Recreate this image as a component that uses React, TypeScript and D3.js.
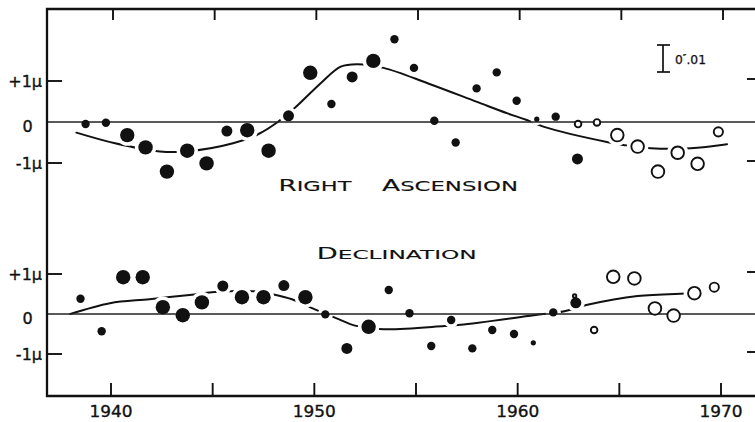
import React from "react";
import * as d3 from "d3";

// ---------- data ----------
const raYears = [1938.75, 1939.75, 1940.8, 1941.7, 1942.75, 1943.75, 1944.7, 1945.7, 1946.7, 1947.75, 1948.73, 1949.8, 1950.84, 1951.86, 1952.9, 1953.94, 1954.9, 1955.9, 1956.95, 1957.98, 1958.97, 1959.95, 1960.94, 1961.87, 1962.94, 1962.97, 1963.9, 1964.9, 1965.9, 1966.9, 1967.87, 1968.85, 1969.87];
const raValues = [-0.05, -0.02, -0.32, -0.62, -1.21, -0.7, -1.01, -0.22, -0.2, -0.7, 0.15, 1.2, 0.44, 1.1, 1.49, 2.02, 1.32, 0.03, -0.5, 0.82, 1.21, 0.52, 0.07, 0.13, -0.9, -0.05, -0.01, -0.32, -0.6, -1.21, -0.75, -1.02, -0.24];
const raWeights = [2, 2, 4, 4, 4, 4, 4, 3, 4, 4, 3, 4, 2, 3, 4, 2, 2, 2, 2, 2, 2, 2, 1, 2, 3, 2, 2, 4, 4, 4, 4, 4, 3];
const raOpen = [0, 0, 0, 0, 0, 0, 0, 0, 0, 0, 0, 0, 0, 0, 0, 0, 0, 0, 0, 0, 0, 0, 0, 0, 0, 1, 1, 1, 1, 1, 1, 1, 1];

const decYears = [1938.5, 1939.54, 1940.6, 1941.56, 1942.55, 1943.53, 1944.47, 1945.5, 1946.44, 1947.5, 1948.5, 1949.56, 1950.54, 1951.6, 1952.67, 1953.66, 1954.68, 1955.75, 1956.73, 1957.77, 1958.75, 1959.82, 1960.77, 1961.75, 1962.86, 1962.8, 1963.76, 1964.7, 1965.74, 1966.75, 1967.67, 1968.69, 1969.67];
const decValues = [0.38, -0.43, 0.92, 0.92, 0.17, -0.03, 0.29, 0.7, 0.42, 0.42, 0.71, 0.42, -0.01, -0.86, -0.32, 0.6, 0.02, -0.8, -0.15, -0.86, -0.4, -0.5, -0.72, 0.04, 0.28, 0.45, -0.4, 0.93, 0.89, 0.14, -0.04, 0.52, 0.67];
const decWeights = [2, 2, 4, 4, 4, 4, 4, 3, 4, 4, 3, 4, 2, 3, 4, 2, 2, 2, 2, 2, 2, 2, 1, 2, 3, 1, 2, 4, 4, 4, 4, 4, 3];
const decOpen = [0, 0, 0, 0, 0, 0, 0, 0, 0, 0, 0, 0, 0, 0, 0, 0, 0, 0, 0, 0, 0, 0, 0, 0, 0, 1, 1, 1, 1, 1, 1, 1, 1];

const raCurveYears = [1938.3, 1940.2, 1942.4, 1943.7, 1946.0, 1947.3, 1948.2, 1949.1, 1950.3, 1951.3, 1952.1, 1953.4, 1955.6, 1958.0, 1959.5, 1960.45, 1961.3, 1964.5, 1965.2, 1966.55, 1968.5, 1970.3];
const raCurveValues = [-0.26, -0.52, -0.72, -0.72, -0.52, -0.28, 0.0, 0.37, 0.94, 1.35, 1.41, 1.32, 0.94, 0.49, 0.21, 0.05, -0.12, -0.5, -0.56, -0.64, -0.64, -0.54];

const decCurveYears = [1938.0, 1939.95, 1941.9, 1944.1, 1945.1, 1947.0, 1948.0, 1948.9, 1950.0, 1951.1, 1952.0, 1953.4, 1956.4, 1957.2, 1960.8, 1962.3, 1963.43, 1965.9, 1968.2, 1968.7];
const decCurveValues = [0.0, 0.27, 0.37, 0.49, 0.55, 0.57, 0.49, 0.37, 0.12, -0.11, -0.29, -0.38, -0.3, -0.27, -0.03, 0.07, 0.23, 0.45, 0.51, 0.52];

const tickYears = [1940, 1945, 1950, 1955, 1960, 1965, 1970];
const labelYears = [1940, 1950, 1960, 1970];
const yTicks = [1, 0, -1];
const yTickLabels = ["+1\u03bc", "0", "-1\u03bc"];

// ---------- layout ----------
const W = 755;
const H = 422;
const LEFT = 47;
const TOP = 9;
const BOTTOM = 396;
const RIGHT = 758;
const FONT = "'DejaVu Sans', sans-serif";
const INK = "#111";

const x = d3.scaleLinear().domain([1940, 1970]).range([111, 721]);
const yTop = d3.scaleLinear().domain([-1, 1]).range([163, 81]);
const yBot = d3.scaleLinear().domain([-1, 1]).range([354, 274]);
const rScale = d3.scaleOrdinal<number, number>().domain([1, 2, 3, 4]).range([2.6, 4.2, 5.5, 7.2]);

type Pt = { year: number; value: number; w: number; open: boolean };

function makePoints(ys: number[], vs: number[], ws: number[], os: number[]): Pt[] {
  return ys.map((yr, i) => ({ year: yr, value: vs[i], w: ws[i], open: os[i] === 1 }));
}

const textStyle = { fontFamily: FONT, fill: INK, stroke: INK, strokeWidth: 0.35 };
const titleStyle = { fontFamily: FONT, fill: INK, stroke: INK, strokeWidth: 0.12 };

function Panel({ pts, cy, cv, y }: { pts: Pt[]; cy: number[]; cv: number[]; y: d3.ScaleLinear<number, number> }) {
  const line = d3
    .line<number>()
    .x((d) => x(d))
    .y((_, i) => y(cv[i]))
    .curve(d3.curveCatmullRom.alpha(0.5));
  return (
    <g>
      <path d={line(cy) || ""} fill="none" stroke={INK} strokeWidth={2} strokeLinecap="round" />
      {pts.map((p, i) => (
        <circle key={"h" + i} cx={x(p.year)} cy={y(p.value)} r={rScale(p.w) + 3.5} fill="#fff" />
      ))}
      <line x1={LEFT} x2={RIGHT} y1={y(0)} y2={y(0)} stroke="#222" strokeWidth={1.7} />
      {pts.map((p, i) =>
        p.open ? (
          <circle key={"p" + i} cx={x(p.year)} cy={y(p.value)} r={rScale(p.w) - 0.9} fill="#fff" stroke={INK} strokeWidth={1.9} />
        ) : (
          <circle key={"p" + i} cx={x(p.year)} cy={y(p.value)} r={rScale(p.w)} fill={INK} />
        )
      )}
      {yTicks.map((t, i) => (
        <g key={"t" + i}>
          {t !== 0 && <line x1={LEFT} x2={LEFT + 15} y1={y(t)} y2={y(t)} stroke={INK} strokeWidth={1.9} />}
          {t !== 0 && <line x1={RIGHT - 11} x2={RIGHT} y1={y(t) - 2} y2={y(t) - 2} stroke={INK} strokeWidth={1.9} />}
          <text
            x={t === 0 ? 27.5 : 42}
            y={y(t) + (t === 0 ? 10 : 6)}
            textAnchor={t === 0 ? "middle" : "end"}
            fontSize={16}
            {...textStyle}
          >
            {yTickLabels[i]}
          </text>
        </g>
      ))}
    </g>
  );
}

export default function App() {
  const ra = makePoints(raYears, raValues, raWeights, raOpen);
  const dec = makePoints(decYears, decValues, decWeights, decOpen);
  return (
    <svg width={W} height={H} style={{ position: "absolute", left: 0, top: 0, background: "#fff" }}>
      <rect x={0} y={0} width={W} height={H} fill="#fff" />
      <Panel pts={ra} cy={raCurveYears} cv={raCurveValues} y={yTop} />
      <Panel pts={dec} cy={decCurveYears} cv={decCurveValues} y={yBot} />

      {/* frame */}
      <path d={`M${RIGHT},${TOP}H${LEFT}V${BOTTOM}H${RIGHT}`} fill="none" stroke={INK} strokeWidth={2.3} />
      {tickYears.map((t) => (
        <g key={t}>
          <line x1={x(t) + 2} x2={x(t) + 2} y1={TOP} y2={TOP + 11} stroke={INK} strokeWidth={1.9} />
          <line x1={x(t)} x2={x(t)} y1={BOTTOM} y2={BOTTOM - 13} stroke={INK} strokeWidth={1.9} />
        </g>
      ))}
      {labelYears.map((t) => (
        <text key={t} x={x(t) - 21.5} y={416.5} textLength={43} lengthAdjust="spacingAndGlyphs" fontSize={16} {...textStyle}>
          {String(t)}
        </text>
      ))}

      {/* titles */}
      <text x={278.5} y={190.7} textLength={73} lengthAdjust="spacingAndGlyphs" {...titleStyle}>
        <tspan fontSize={15.5}>R</tspan>
        <tspan fontSize={13.3}>IGHT</tspan>
      </text>
      <text x={382} y={190.7} textLength={136} lengthAdjust="spacingAndGlyphs" {...titleStyle}>
        <tspan fontSize={15.5}>A</tspan>
        <tspan fontSize={13.3}>SCENSION</tspan>
      </text>
      <text x={316.7} y={259.3} textLength={160} lengthAdjust="spacingAndGlyphs" {...titleStyle}>
        <tspan fontSize={15}>D</tspan>
        <tspan fontSize={12.8}>ECLINATION</tspan>
      </text>

      {/* scale bar */}
      <g stroke={INK} strokeWidth={1.7}>
        <line x1={663} x2={663} y1={45} y2={72} />
        <line x1={657} x2={670} y1={45} y2={45} />
        <line x1={657} x2={670} y1={72} y2={72} />
      </g>
      <text x={675} y={64.3} textLength={31} lengthAdjust="spacingAndGlyphs" fontSize={11.5} {...textStyle} strokeWidth={0.25}>
        0<tspan dy={-3} fontSize={9}>{"\u2033"}</tspan>
        <tspan dy={3}>.01</tspan>
      </text>
    </svg>
  );
}
